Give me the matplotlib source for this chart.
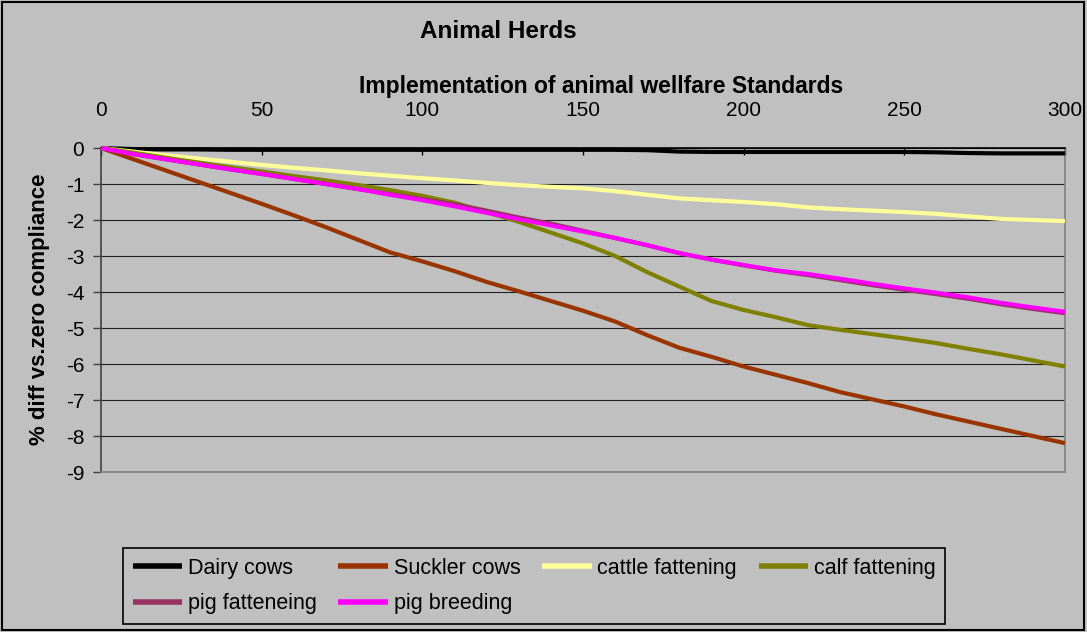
import numpy as np
import matplotlib
matplotlib.use("Agg")
import matplotlib.pyplot as plt
from matplotlib.patches import Rectangle

plt.rcParams['font.family'] = ['Liberation Sans', 'DejaVu Sans']
plt.rcParams['axes.unicode_minus'] = False

# Daten
x_vals = list(range(0, 301, 10))

dairy_cows = [0, -0.03, -0.04, -0.04, -0.05, -0.05, -0.05, -0.05, -0.05, -0.05,
              -0.05, -0.05, -0.05, -0.05, -0.05, -0.05, -0.05, -0.06, -0.1, -0.11,
              -0.11, -0.11, -0.11, -0.11, -0.11, -0.11, -0.12, -0.14, -0.15, -0.15, -0.15]
suckler_cows = [0, -0.31, -0.62, -0.93, -1.24, -1.55, -1.87, -2.2, -2.55, -2.9,
                -3.15, -3.42, -3.72, -3.98, -4.25, -4.52, -4.82, -5.2, -5.55, -5.8,
                -6.07, -6.3, -6.53, -6.78, -6.98, -7.18, -7.4, -7.6, -7.8, -8.0, -8.2]
cattle_fattening = [0, -0.1, -0.2, -0.29, -0.38, -0.47, -0.55, -0.62, -0.7, -0.77,
                    -0.84, -0.9, -0.97, -1.03, -1.08, -1.12, -1.2, -1.3, -1.4, -1.45,
                    -1.5, -1.56, -1.65, -1.7, -1.74, -1.78, -1.83, -1.9, -1.97, -2.0, -2.03]
calf_fattening = [0, -0.13, -0.27, -0.4, -0.53, -0.65, -0.78, -0.9, -1.03, -1.17,
                  -1.33, -1.52, -1.78, -2.05, -2.35, -2.65, -3.0, -3.45, -3.85, -4.25,
                  -4.5, -4.7, -4.92, -5.05, -5.17, -5.29, -5.42, -5.58, -5.73, -5.9, -6.07]
pig_fattening = [0, -0.17, -0.31, -0.45, -0.59, -0.72, -0.86, -1.0, -1.14, -1.28,
                 -1.42, -1.56, -1.74, -1.93, -2.1, -2.3, -2.5, -2.7, -2.92, -3.1,
                 -3.26, -3.41, -3.53, -3.67, -3.81, -3.94, -4.06, -4.19, -4.34, -4.47, -4.59]
pig_breeding = [0, -0.17, -0.31, -0.45, -0.59, -0.72, -0.86, -1.0, -1.14, -1.3,
                -1.45, -1.62, -1.8, -1.98, -2.15, -2.32, -2.5, -2.7, -2.92, -3.1,
                -3.25, -3.4, -3.5, -3.63, -3.77, -3.9, -4.02, -4.15, -4.3, -4.43, -4.55]

series_names = ['Dairy cows', 'Suckler cows', 'cattle fattening', 'calf fattening',
                'pig fatteneing', 'pig breeding']
series_colors = ['#000000', '#993300', '#FFFF99', '#808000', '#993366', '#FF00FF']
x_ticks = [0, 50, 100, 150, 200, 250, 300]
y_ticks = list(range(-9, 1))

BG = '#C0C0C0'
W, H = 1087, 632

fig = plt.figure(figsize=(W / 100, H / 100), dpi=100, facecolor=BG)
# Plotbereich in Pixeln: links 101, rechts 1065, oben 148, unten 472
ax = fig.add_axes([101 / W, 1 - 472 / H, 964 / W, 324 / H])
ax.set_facecolor(BG)

all_series = [dairy_cows, suckler_cows, cattle_fattening, calf_fattening,
              pig_fattening, pig_breeding]
handles = []
for name, vals, col in zip(series_names, all_series, series_colors):
    h, = ax.plot(x_vals, vals, color=col, lw=3.0, label=name, clip_on=False,
                 solid_joinstyle='round', solid_capstyle='butt', zorder=3)
    handles.append(h)

ax.set_xlim(0, 300)
ax.set_ylim(-9, 0)
ax.set_xticks(x_ticks)
ax.set_yticks(y_ticks)

# x-Achse oben (Achse kreuzt bei 0)
ax.xaxis.tick_top()
ax.xaxis.set_label_position('top')
ax.tick_params(axis='x', direction='in', length=5, width=1, color='#000000',
               labelsize=15, pad=20)
ax.tick_params(axis='y', direction='out', length=6, width=1, color='#404040',
               labelsize=15, pad=6)

ax.grid(axis='y', color='#202020', lw=0.8)
ax.set_axisbelow(True)

ax.spines['top'].set_color('#000000')
ax.spines['left'].set_color('#404040')
ax.spines['right'].set_color('#808080')
ax.spines['bottom'].set_color('#808080')
for sp in ax.spines.values():
    sp.set_linewidth(1.2)

ax.set_xlabel('Implementation of animal wellfare Standards', fontsize=16.5,
              fontweight='bold', va='center')
ax.xaxis.set_label_coords(0.519, 1.191)
ax.set_ylabel('% diff vs.zero compliance', fontsize=16, fontweight='bold', va='center')
ax.yaxis.set_label_coords(-0.0633, 0.503)

fig.text(498 / W, 1 - 32 / H, 'Animal Herds', fontsize=17.5, fontweight='bold',
         ha='center', va='center')

# Legende zeilenweise wie in Excel: Reihenfolge fuer spaltenweises Fuellen umsortieren
leg_order = [0, 4, 1, 5, 2, 3]
leg = fig.legend([handles[i] for i in leg_order], [series_names[i] for i in leg_order],
                 loc='upper left', bbox_to_anchor=(123 / W, 1 - 548 / H),
                 ncol=4, fontsize=15.5, frameon=True, fancybox=False,
                 facecolor=BG, edgecolor='#000000', framealpha=1,
                 handlelength=2.3, handletextpad=0.27, columnspacing=1.0,
                 labelspacing=0.68, borderpad=0.45, borderaxespad=0)
leg.get_frame().set_linewidth(1.2)
for line in leg.get_lines():
    line.set_linewidth(4)

# Rahmen um die ganze Grafik
fig.patches.append(Rectangle((0.002, 0.003), 0.995, 0.994, transform=fig.transFigure,
                             fill=False, edgecolor='#000000', lw=1.5))

fig.savefig('out.png', dpi=100, facecolor=BG)
